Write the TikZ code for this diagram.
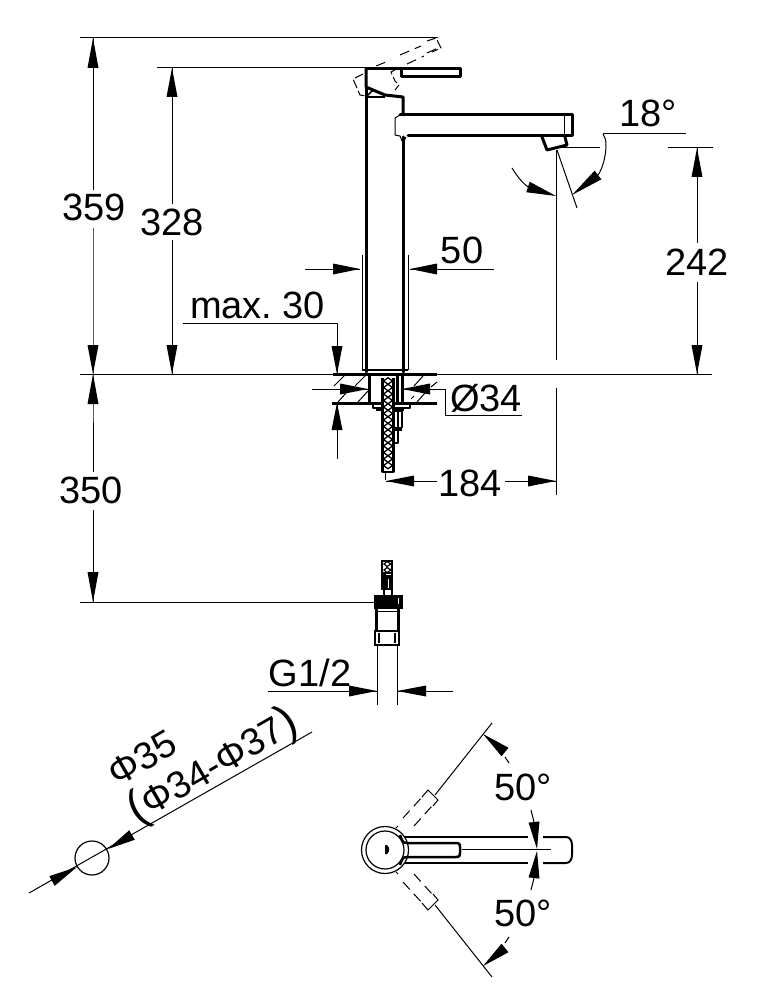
\documentclass[tikz,border=0pt]{standalone}
\usepackage{fontspec}
\setmainfont{Liberation Sans}
\usetikzlibrary{calc}
\tikzset{
 thin line/.style={line width=1pt,black},
 thick line/.style={line width=3pt,black,line cap=round,line join=round},
 mid line/.style={line width=1.6pt,black,line join=round},
 dash line/.style={line width=1pt,black,dash pattern=on 10pt off 6pt},
 label/.style={inner sep=0pt,font=\fontsize{38}{38}\selectfont,text=black}
}
\newcommand\arw[2]{\fill[black] #1 -- ($#2!5.5pt!90:#1$) -- ($#2!5.5pt!-90:#1$) -- cycle;}
\newcommand\bigpar[1]{{\fontsize{46}{38}\selectfont #1}}
\begin{document}
\begin{tikzpicture}[x=1pt,y=-1pt]
\fill[white] (0,0) rectangle (756,1000);
\useasboundingbox (0,0) rectangle (756,1000);
% ---- long dimension/extension lines
\draw[thin line] (80,38) -- (438,38);
\draw[thin line] (157,68) -- (366,68);
\draw[thin line] (80,374) -- (712,374);
\draw[thin line] (80,602) -- (374,602);
\draw[thin line] (93,38) -- (93,190) (93,228) -- (93,374) -- (93,472) (93,510) -- (93,602);
\draw[thin line] (172,68) -- (172,204) (172,240) -- (172,374);
\draw[thin line] (697,148) -- (697,243) (697,282) -- (697,374);
\draw[thin line] (668,148) -- (713,148);
\draw[thin line] (556,150) -- (556,360);
\draw[thin line] (556,388) -- (556,495);
\draw[thin line] (386,481) -- (437,481) (505,481) -- (556,481);
\arw{(93,38)}{(93,68)} \arw{(93,374)}{(93,345)} \arw{(93,374)}{(93,404)} \arw{(93,602)}{(93,572)}
\arw{(172,68)}{(172,97)} \arw{(172,374)}{(172,345)}
\arw{(697,148)}{(697,177)} \arw{(697,374)}{(697,345)}
\arw{(386,481)}{(414,481)} \arw{(556,481)}{(528,481)}
% 50
\draw[thin line] (362,255) -- (362,370) (408,255) -- (408,370);
\draw[thin line] (305,269) -- (360,269) (410,269) -- (494,269);
\arw{(360,269)}{(333,269)} \arw{(410,269)}{(437,269)}
% max 30
\draw[thin line] (183,323) -- (337,323) -- (337,374) (337,403) -- (337,459);
\arw{(337,374)}{(337,346)} \arw{(337,403)}{(337,430)}
% diameter 34
\draw[thin line] (312,389) -- (368,389) (402,389) -- (445,389) -- (445,415) -- (522,415);
\arw{(368,389)}{(340,389)} \arw{(402,389)}{(430,389)}
% ---- faucet side view
\draw[thick line] (366,69) -- (366,87) -- (385,95) -- (403,97) -- (403,115);
\draw[thick line] (366,69) -- (401,69);
\draw[thick line] (401,69) rectangle (460,77);
\draw[mid line] (366,97) -- (385,97) (366,97) -- (373,90);
\draw[thick line] (366,87) -- (366,372) (403,137) -- (403,372);
\draw[mid line] (362,370) -- (408,370);
\draw[thick line] (400,115) -- (572,115) -- (572,136) -- (408,136);
\draw[thin line] (400,115) -- (395,118) -- (395,135) -- (400,136) -- (403,143) -- (406,137);
\draw[thin line] (564,116) -- (564,136);
\draw[thick line] (542,137) -- (547,150) -- (567,145) -- (565,137);
% dashed lever
\draw[dash line] (376,66) -- (391,60) (400,55) -- (421,46);
\draw[dash line] (407,64) -- (424,56) (427,53) -- (438,48);
\draw[thin line,dash pattern=on 9pt off 3pt] (427,41) -- (436,38) -- (441,48) -- (432,52);
\draw[thin line,dash pattern=on 9pt off 3pt] (363,74) -- (353,79) -- (360,95) -- (366,96);
\draw[thin line,dash pattern=on 7pt off 3pt] (395,70) -- (391,72) -- (395,81) -- (399,85) -- (395,90);
% 18 degrees
\draw[thin line] (557,148) -- (600,148) (603,134) -- (686,134);
\draw[thin line] (557,150) -- (577,208);
\draw[thin line] (512,168) .. controls (518,178) and (524,184) .. (528,187);
\draw[thin line] (598,175) .. controls (603,168) and (606,155) .. (606,145) .. controls (606,140) and (605,137) .. (603,134);
\arw{(556,196)}{(528,187)} \arw{(572,195)}{(598,175)}
% ---- installation section
\draw[thick line,line cap=butt] (333,374) -- (437,374) (332,403) -- (437,403);
\draw[thin line] (334,386) -- (344,376) (355,386) -- (365,376) (338,402) -- (346,393) (358,402) -- (368,391);
\draw[thin line] (414,386) -- (423,376) (431,387) -- (437,382) (417,402) -- (425,393) (411,399) -- (414,396);
\draw[thick line,line cap=butt] (369,374) -- (369,403) (402,374) -- (402,403) (397,376) -- (397,403);
\draw[mid line] (373,403) -- (373,408) -- (410,408) -- (410,403);
\draw[mid line] (376,410) -- (404,410);
% hose
\fill[white] (382,378) rectangle (394,472);
\foreach \y in {381,387.5,...,468}{
  \draw[line width=1.3pt] (383.5,\y) -- (388,\y+3.25) -- (392.5,\y) -- (388,\y-3.25) -- cycle;
}
\draw[line width=2.5pt,black,line join=round] (382.5,378) -- (382.5,472) -- (393.5,472) -- (393.5,378);
\draw[thin line] (385,472) -- (385,480);
\draw[line width=2.5pt,line join=round] (394,411) -- (402,411) -- (402,428);
\draw[mid line] (398,412) -- (398,430);
\fill[black] (394,427) rectangle (402,431);
\draw[mid line] (398,431) -- (398,443) -- (394,443);
% ---- lower connector
\draw[line width=1.5pt] (382,561) rectangle (392,573);
\foreach \y in {564,570}{\draw[line width=1.2pt] (384,\y) -- (387,\y+2.5) -- (391,\y) -- (387,\y-2.5) -- cycle;}
\fill[black] (381,573) rectangle (393,590);
\draw[white,line width=1pt] (386,574.5) -- (391,574.5) (388,579) -- (388,588);
\draw[mid line] (384,590) -- (384,595) (392,590) -- (392,595);
\fill[black] (374,595) rectangle (403,609);
\draw[white,line width=1pt] (398,598) -- (398,604);
\draw[thick line,line cap=butt] (376,609) -- (376,631) (398,609) -- (398,631);
\draw[thin line] (376,611) -- (398,611);
\draw[line width=2.5pt] (375,631) rectangle (399,645);
\draw[line width=2pt] (379,633) -- (379,643) (395,633) -- (395,643);
\draw[thin line] (377,646) -- (377,705) (397,646) -- (397,705);
\draw[thin line] (268,691) -- (377,691) (397,691) -- (453,691);
\arw{(377,691)}{(349,691)} \arw{(397,691)}{(426,691)}
% ---- left hole
\draw[line width=1.2pt] (92,858) circle (17);
\draw[thin line] (29,893) -- (312,732);
\arw{(77,867)}{(52,881)} \arw{(108,849)}{(132,835)}
% ---- top view
\draw[line width=1.2pt] (385,850) circle (23.5);
\draw[line width=1.2pt] (385,850) circle (19);
\fill[black] (385,845) -- (387,845) .. controls (390,848) and (390,851) .. (387,854) -- (385,854) -- cycle;
\draw[line width=2.5pt,line join=round] (400,835) .. controls (402,840) and (402,843) .. (407,843) -- (456,843) .. controls (460,843) and (460,845) .. (460,847) -- (460,853) .. controls (460,855) and (460,857) .. (456,857) -- (407,857) .. controls (402,857) and (402,860) .. (400,865);
\draw[line width=2pt] (405,837) -- (528,837) (405,863) -- (528,863);
\draw[line width=2pt] (543,837) -- (566,837) .. controls (570,837) and (572,841) .. (572,845) -- (572,855) .. controls (572,859) and (570,863) .. (566,863) -- (543,863);
\draw[thin line] (462,849.5) -- (551,849.5);
% dashed positions
\draw[dash line] (403,818) -- (424,795);
\draw[dash line] (414,826) -- (432,806);
\draw[thin line] (422,797) -- (428,790) -- (438,800) -- (433,806);
\draw[dash line] (403,882) -- (424,905);
\draw[dash line] (414,874) -- (432,894);
\draw[thin line] (422,903) -- (428,910) -- (438,900) -- (433,894);
\draw[thin line] (396,828) -- (398,826) (396,872) -- (398,874);
\draw[thin line] (435,795) -- (492,723);
\draw[thin line] (435,905) -- (492,977);
\draw[thin line] (509,763) -- (505,757) (509,937) -- (505,943);
\arw{(483,734)}{(505,752)} \arw{(483,966)}{(505,948)}
\draw[thin line] (531,810) -- (534,822) (531,890) -- (534,878);
\arw{(537,849)}{(534,822)} \arw{(537,851)}{(534,878)}
% ---- labels
\node[label] (d359) at (94,207) {359};
\node[label] (d328) at (172,222) {328};
\node[label] (d50) at (462,250) {50};
\node[label] (dmax) at (257.5,305) {max.\hspace{10pt}30};
\node[label] (d242) at (697,262) {242};
\node[label] (a18) at (648,113) {18°};
\node[label] (d350) at (91,490) {350};
\node[label] (d184) at (470,483) {184};
\node[label] (dia34) at (486,398) {Ø34};
\node[label] (g12) at (310,673) {G1/2};
\node[label] (a50a) at (523,787) {50°};
\node[label] (a50b) at (523,913) {50°};
\node[label,rotate=30] (p35) at (142,758) {Φ35};
\node[label,rotate=30] (p34) at (213,767) {\bigpar{(}Φ34-Φ37\bigpar{)}};
\end{tikzpicture}
\end{document}
